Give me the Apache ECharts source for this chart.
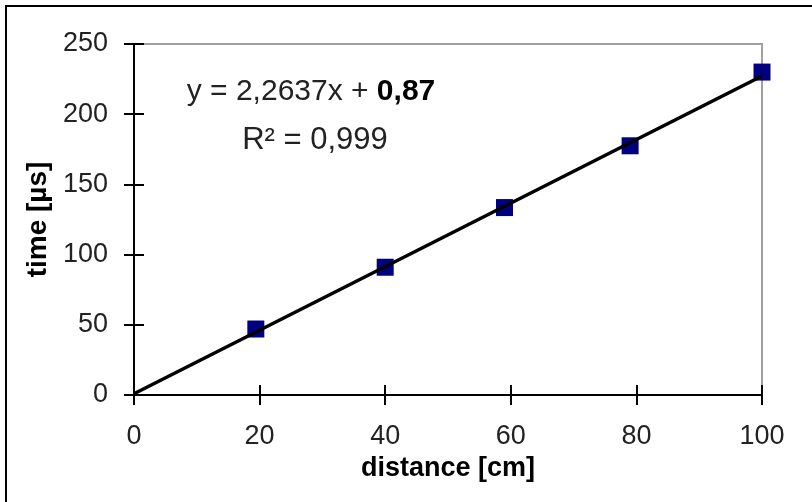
<!DOCTYPE html>
<html>
<head>
<meta charset="utf-8">
<script src="https://cdn.jsdelivr.net/npm/echarts@6/dist/echarts.min.js"></script>
<style>html,body{margin:0;padding:0;background:#fff;}#c{width:812px;height:502px;}</style>
</head>
<body>
<div id="c"></div>
<script>
// Data
const distance = [19.4, 40, 59, 79, 100];
const time = [47, 91, 133.5, 177.5, 230];
// Trendline y = 2.2637x + 0.87 endpoints
const trendX = [0, 100];
const trendY = [0.87, 227.24];
const xTicks = [0, 20, 40, 60, 80, 100];
const yTicks = [0, 50, 100, 150, 200, 250];

const FONT = '"Liberation Sans", Arial, sans-serif';
const chart = echarts.init(document.getElementById('c'), null, {renderer: 'canvas'});

const axisCommon = {
  type: 'value',
  splitLine: {show: false}
};

chart.setOption({
  animation: false,
  backgroundColor: '#fff',
  grid: {left: 134, right: 50, top: 44, bottom: 107, show: true, borderColor: '#a0a0a0', borderWidth: 2, backgroundColor: 'transparent'},
  xAxis: [
    Object.assign({}, axisCommon, {
      min: xTicks[0], max: xTicks[xTicks.length - 1], interval: 20,
      name: 'distance [cm]', nameLocation: 'middle', nameGap: 59,
      nameTextStyle: {fontFamily: FONT, fontSize: 27, fontWeight: 'bold', color: '#000'},
      axisLine: {show: true, onZero: false, lineStyle: {color: '#000', width: 2}},
      axisTick: {show: true, inside: false, length: 10, lineStyle: {color: '#000', width: 2}},
      axisLabel: {fontFamily: FONT, fontSize: 27, color: '#222', margin: 28}
    }),
    Object.assign({}, axisCommon, {
      min: xTicks[0], max: xTicks[xTicks.length - 1], interval: 20, position: 'bottom',
      axisLine: {show: false},
      axisTick: {show: true, inside: true, length: 10, lineStyle: {color: '#000', width: 2}},
      axisLabel: {show: false}
    })
  ],
  yAxis: [
    Object.assign({}, axisCommon, {
      min: yTicks[0], max: yTicks[yTicks.length - 1], interval: 50,
      name: 'time [µs]', nameLocation: 'middle', nameGap: 80, nameRotate: 90,
      nameTextStyle: {fontFamily: FONT, fontSize: 28, fontWeight: 'bold', color: '#000'},
      axisLine: {show: true, onZero: false, lineStyle: {color: '#000', width: 2}},
      axisTick: {show: true, inside: false, length: 10, lineStyle: {color: '#000', width: 2}},
      axisLabel: {fontFamily: FONT, fontSize: 27, color: '#222', margin: 26}
    }),
    Object.assign({}, axisCommon, {
      min: yTicks[0], max: yTicks[yTicks.length - 1], interval: 50, position: 'left',
      axisLine: {show: false},
      axisTick: {show: true, inside: true, length: 10, lineStyle: {color: '#000', width: 2}},
      axisLabel: {show: false}
    })
  ],
  series: [
    {
      type: 'scatter',
      name: 'measured',
      data: distance.map((d, i) => [d, time[i]]),
      symbol: 'rect', symbolSize: 17,
      itemStyle: {color: '#000080', opacity: 1},
      z: 2
    },
    {
      type: 'line',
      name: 'trend',
      data: trendX.map((d, i) => [d, trendY[i]]),
      showSymbol: false, symbol: 'none',
      lineStyle: {color: '#000', width: 3.5},
      z: 3
    }
  ],
  graphic: [
    {type: 'rect', shape: {x: 6, y: 6, width: 900, height: 600}, style: {fill: 'none', stroke: '#000', lineWidth: 2}, silent: true, z: 10},
    {type: 'text', x: 311, y: 92, z: 10,
      style: {text: '{n|y = 2,2637x + }{b|0,87}', align: 'center', verticalAlign: 'middle',
        rich: {n: {fontFamily: FONT, fontSize: 30, fill: '#222'}, b: {fontFamily: FONT, fontSize: 30, fontWeight: 'bold', fill: '#000'}}}},
    {type: 'text', x: 315, y: 140, z: 10,
      style: {text: 'R² = 0,999', align: 'center', verticalAlign: 'middle', fontFamily: FONT, fontSize: 31, fill: '#222'}}
  ]
});
</script>
</body>
</html>
